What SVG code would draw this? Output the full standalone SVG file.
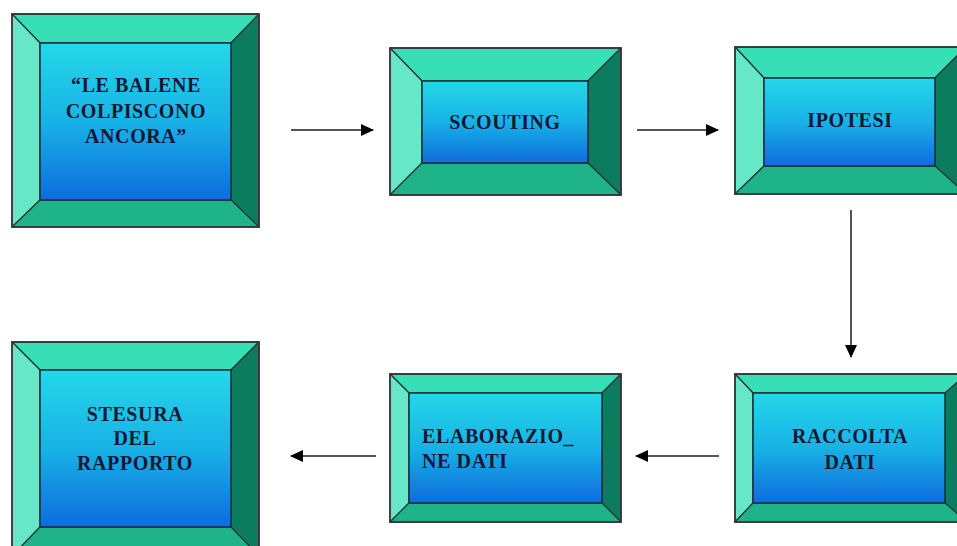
<svg xmlns="http://www.w3.org/2000/svg" width="957" height="546" viewBox="0 0 957 546">
<defs>
<linearGradient id="face" x1="0" y1="0" x2="0" y2="1">
<stop offset="0" stop-color="#24D8E8"/>
<stop offset="0.5" stop-color="#18B2E6"/>
<stop offset="1" stop-color="#0E6CDD"/>
</linearGradient>
<marker id="ah" viewBox="0 0 13 12" refX="12" refY="6" markerWidth="13" markerHeight="12" markerUnits="userSpaceOnUse" orient="auto">
<path d="M0,0 L13,6 L0,12 Z" fill="#000"/>
</marker>
<style>
.t{fill:#36DFB6;stroke:#2b3b3b;stroke-width:1.3;stroke-linejoin:round}
.l{fill:#66E8C8;stroke:#2b3b3b;stroke-width:1.3;stroke-linejoin:round}
.r{fill:#0B7C5E;stroke:#2b3b3b;stroke-width:1.3;stroke-linejoin:round}
.b{fill:#1FB38A;stroke:#2b3b3b;stroke-width:1.3;stroke-linejoin:round}
.f{fill:url(#face);stroke:#1d2d3d;stroke-width:1.5}
.o{fill:none;stroke:#333;stroke-width:1.5}
.txt{font-family:"Liberation Serif","Times New Roman",serif;font-weight:bold;font-size:20px;fill:#141834;letter-spacing:0.6px}
.c{stroke:#555;stroke-width:2;fill:none;marker-end:url(#ah)}
</style>
</defs>
<rect width="957" height="546" fill="#fff"/>

<g id="n1">
<polygon class="t" points="12,14 259,14 231,43 40,43"/>
<polygon class="l" points="12,14 40,43 40,200 12,227"/>
<polygon class="r" points="259,14 259,227 231,200 231,43"/>
<polygon class="b" points="12,227 40,200 231,200 259,227"/>
<rect class="f" x="40" y="43" width="191" height="157"/>
<rect class="o" x="12" y="14" width="247" height="213"/>
<text class="txt" text-anchor="middle"><tspan x="136" y="92">“LE BALENE</tspan><tspan x="136" y="118">COLPISCONO</tspan><tspan x="136" y="143">ANCORA”</tspan></text>
</g>

<g id="n2">
<polygon class="t" points="390,48 621,48 588,81 422,81"/>
<polygon class="l" points="390,48 422,81 422,163 390,195"/>
<polygon class="r" points="621,48 621,195 588,163 588,81"/>
<polygon class="b" points="390,195 422,163 588,163 621,195"/>
<rect class="f" x="422" y="81" width="166" height="82"/>
<rect class="o" x="390" y="48" width="231" height="147"/>
<text class="txt" text-anchor="middle" x="505" y="129">SCOUTING</text>
</g>

<g id="n3">
<polygon class="t" points="735,47 966,47 935,78 764,78"/>
<polygon class="l" points="735,47 764,78 764,166 735,194"/>
<polygon class="r" points="966,47 966,194 935,166 935,78"/>
<polygon class="b" points="735,194 764,166 935,166 966,194"/>
<rect class="f" x="764" y="78" width="171" height="88"/>
<rect class="o" x="735" y="47" width="231" height="147"/>
<text class="txt" text-anchor="middle" x="850" y="127">IPOTESI</text>
</g>

<g id="n4">
<polygon class="t" points="735,374 967,374 945,393 753,393"/>
<polygon class="l" points="735,374 753,393 753,503 735,522"/>
<polygon class="r" points="967,374 967,522 945,503 945,393"/>
<polygon class="b" points="735,522 753,503 945,503 967,522"/>
<rect class="f" x="753" y="393" width="192" height="110"/>
<rect class="o" x="735" y="374" width="232" height="148"/>
<text class="txt" text-anchor="middle"><tspan x="850" y="443">RACCOLTA</tspan><tspan x="850" y="469">DATI</tspan></text>
</g>

<g id="n5">
<polygon class="t" points="390,374 621,374 602,393 409,393"/>
<polygon class="l" points="390,374 409,393 409,503 390,522"/>
<polygon class="r" points="621,374 621,522 602,503 602,393"/>
<polygon class="b" points="390,522 409,503 602,503 621,522"/>
<rect class="f" x="409" y="393" width="193" height="110"/>
<rect class="o" x="390" y="374" width="231" height="148"/>
<text class="txt"><tspan x="422" y="443">ELABORAZIO_</tspan><tspan x="422" y="468">NE DATI</tspan></text>
</g>

<g id="n6">
<polygon class="t" points="12,342 259,342 231,370 40,370"/>
<polygon class="l" points="12,342 40,370 40,527 12,556"/>
<polygon class="r" points="259,342 259,556 231,527 231,370"/>
<polygon class="b" points="12,556 40,527 231,527 259,556"/>
<rect class="f" x="40" y="370" width="191" height="157"/>
<rect class="o" x="12" y="342" width="247" height="214"/>
<text class="txt" text-anchor="middle"><tspan x="135" y="421">STESURA</tspan><tspan x="135" y="445">DEL</tspan><tspan x="135" y="470">RAPPORTO</tspan></text>
</g>

<g id="connectors">
<line class="c" x1="291" y1="130" x2="373" y2="130"/>
<line class="c" x1="637" y1="130" x2="718" y2="130"/>
<line class="c" x1="851" y1="210" x2="851" y2="357"/>
<line class="c" x1="719" y1="456" x2="636" y2="456"/>
<line class="c" x1="376" y1="456" x2="291" y2="456"/>
</g>
</svg>
